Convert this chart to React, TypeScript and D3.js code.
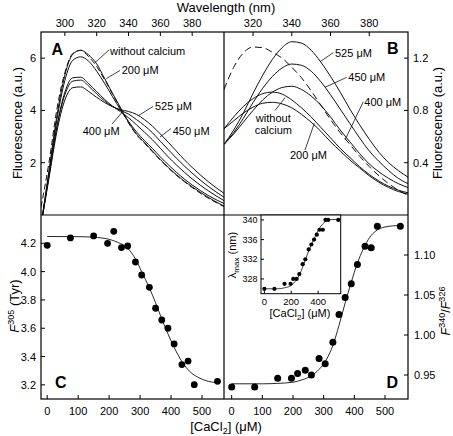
import React from "react";
import * as d3 from "d3";

// ---------- DATA ----------
// Panel A: emission spectra (wavelength, nm)
const WAVE_A = [285, 290, 295, 300, 305, 310, 315, 320, 325, 330, 335, 340, 345, 350, 355, 360, 365, 370, 375, 380, 390, 400];
const A_WITHOUT = [-0.4, 1.7, 3.8, 5.35, 6.15, 6.3, 6.12, 5.78, 5.22, 4.65, 4.1, 3.55, 3.1, 2.78, 2.45, 2.12, 1.82, 1.55, 1.3, 1.08, 0.68, 0.34];
const A_200 = [-0.4, 1.6, 3.65, 5.15, 5.92, 6.05, 5.88, 5.5, 5.03, 4.52, 4.02, 3.58, 3.18, 2.85, 2.55, 2.22, 1.92, 1.64, 1.38, 1.15, 0.75, 0.44];
const A_400 = [-0.4, 1.5, 3.4, 4.7, 5.25, 5.27, 5.02, 4.72, 4.42, 4.16, 3.95, 3.72, 3.45, 3.17, 2.88, 2.55, 2.22, 1.92, 1.64, 1.38, 0.93, 0.55];
const A_450 = [-0.4, 1.5, 3.35, 4.6, 5.12, 5.16, 4.93, 4.63, 4.36, 4.15, 4.0, 3.86, 3.65, 3.42, 3.15, 2.82, 2.5, 2.18, 1.88, 1.6, 1.1, 0.68];
const A_525 = [-0.4, 1.4, 3.2, 4.4, 4.87, 4.9, 4.72, 4.5, 4.3, 4.14, 4.03, 3.96, 3.85, 3.65, 3.4, 3.1, 2.78, 2.45, 2.12, 1.82, 1.28, 0.83];
const A_DASHED = [0.3, 2.0, 4.05, 5.45, 6.18, 6.3, 6.05, 5.68, 5.17, 4.62, 4.07, 3.52, 3.07, 2.75, 2.42, 2.1, 1.8, 1.52, 1.28, 1.05, 0.65, 0.32];

// Panel B: emission spectra
const WAVE_B = [305, 310, 315, 320, 325, 330, 335, 340, 345, 350, 355, 360, 365, 370, 375, 380, 385, 390, 395, 400];
const B_WITHOUT = [0.66, 0.75, 0.83, 0.89, 0.928, 0.94, 0.925, 0.88, 0.82, 0.75, 0.67, 0.59, 0.51, 0.44, 0.37, 0.31, 0.26, 0.22, 0.19, 0.17];
const B_200 = [0.66, 0.72, 0.78, 0.825, 0.855, 0.862, 0.85, 0.82, 0.77, 0.71, 0.64, 0.56, 0.49, 0.42, 0.36, 0.3, 0.25, 0.21, 0.18, 0.16];
const B_400 = [0.54, 0.62, 0.71, 0.8, 0.88, 0.94, 0.975, 0.985, 0.96, 0.91, 0.84, 0.75, 0.65, 0.56, 0.47, 0.39, 0.33, 0.28, 0.24, 0.21];
const B_450 = [0.54, 0.63, 0.74, 0.86, 0.97, 1.06, 1.125, 1.155, 1.145, 1.1, 1.02, 0.92, 0.81, 0.7, 0.59, 0.49, 0.41, 0.34, 0.28, 0.24];
const B_525 = [0.54, 0.65, 0.78, 0.93, 1.07, 1.19, 1.28, 1.326, 1.315, 1.26, 1.17, 1.06, 0.94, 0.81, 0.69, 0.58, 0.48, 0.4, 0.34, 0.29];
const B_DASHED = [0.96, 1.13, 1.24, 1.285, 1.28, 1.245, 1.2, 1.13, 1.05, 0.95, 0.84, 0.73, 0.63, 0.54, 0.45, 0.37, 0.3, 0.24, 0.19, 0.15];

// Titration: [CaCl2] (uM)
const CACL2 = [0, 75, 150, 195, 215, 240, 260, 285, 305, 330, 350, 370, 390, 410, 435, 455, 475, 550];
const C_F305 = [4.186, 4.238, 4.252, 4.2, 4.285, 4.17, 4.181, 4.068, 3.976, 3.889, 3.741, 3.658, 3.6, 3.489, 3.343, 3.368, 3.201, 3.225];
const D_RATIO = [0.935, 0.935, 0.946, 0.946, 0.952, 0.956, 0.95, 0.9705, 0.964, 0.991, 1.0255, 1.047, 1.064, 1.088, 1.111, 1.109, 1.136, 1.136];
const INSET_LMAX = [326, 326, 327, 327, 328, 328, 329, 331, 332, 334, 335, 336, 337, 338, 338, 340, 340, 340];

// Fitted curves
const C_FIT_X = [0, 100, 150, 200, 230, 260, 285, 305, 330, 350, 370, 390, 410, 435, 460, 490, 520, 550];
const C_FIT_Y = [4.248, 4.247, 4.243, 4.228, 4.205, 4.165, 4.09, 4.0, 3.885, 3.78, 3.665, 3.56, 3.465, 3.365, 3.295, 3.25, 3.225, 3.215];
const D_FIT_X = [0, 100, 150, 200, 230, 260, 285, 310, 330, 350, 370, 390, 410, 430, 450, 470, 500, 550];
const D_FIT_Y = [0.939, 0.939, 0.9395, 0.941, 0.944, 0.949, 0.957, 0.97, 0.987, 1.012, 1.04, 1.066, 1.09, 1.108, 1.122, 1.13, 1.135, 1.137];
const I_FIT_X = [0, 100, 150, 200, 230, 260, 285, 305, 330, 350, 370, 390, 410, 435, 460, 490, 550];
const I_FIT_Y = [326, 326, 326.2, 326.7, 327.5, 328.8, 330.4, 331.9, 333.7, 335, 336.2, 337.3, 338.3, 339.2, 339.8, 340.05, 340.1];

// Ticks
const TICKS_WAVE_A = [300, 320, 340, 360, 380];
const TICKS_WAVE_B = [320, 340, 360, 380];
const TICKS_A_Y = [2, 4, 6];
const TICKS_B_Y = [0.4, 0.8, 1.2];
const TICKS_C_Y = [3.2, 3.4, 3.6, 3.8, 4.0, 4.2];
const TICKS_D_Y = [0.95, 1.0, 1.05, 1.1];
const TICKS_CONC = [0, 100, 200, 300, 400, 500];
const TICKS_I_X = [0, 200, 400];
const TICKS_I_Y = [328, 332, 336, 340];

const FONT = "'Liberation Sans', Arial, Helvetica, sans-serif";

export default function App() {
  const L = 41, M = 224, R = 408, T = 32, H = 215, B = 399;
  const xA = d3.scaleLinear().domain([285, 400]).range([L, M]);
  const yA = d3.scaleLinear().domain([0, 7]).range([H, T]);
  const xB = d3.scaleLinear().domain([305, 400]).range([M, R]);
  const yB = d3.scaleLinear().domain([0, 1.4]).range([H, T]);
  const xC = d3.scaleLinear().domain([-20, 571]).range([L, M]);
  const yC = d3.scaleLinear().domain([3.1, 4.4]).range([B, H]);
  const xD = d3.scaleLinear().domain([-25, 575]).range([M, R]);
  const yD = d3.scaleLinear().domain([0.92, 1.15]).range([B, H]);
  const IL = 261, IR = 340.7, IT = 215, IB = 293.7;
  const xI = d3.scaleLinear().domain([-25, 568]).range([IL, IR]);
  const yI = d3.scaleLinear().domain([325, 341]).range([IB, IT]);

  const specA = (vals: number[]) =>
    d3.line<number>().x((_, i) => xA(WAVE_A[i])).y((d) => yA(d)).curve(d3.curveMonotoneX)(vals) || "";
  const specB = (vals: number[]) =>
    d3.line<number>().x((_, i) => xB(WAVE_B[i])).y((d) => yB(d)).curve(d3.curveMonotoneX)(vals) || "";
  const fit = (xs: number[], ys: number[], sx: any, sy: any) =>
    d3.line<number>().x((d) => sx(d)).y((_, i) => sy(ys[i])).curve(d3.curveMonotoneX)(xs) || "";

  const tickLen = 4;
  const tfs = 11;
  const stroke = "#000";

  return (
    <svg width={453} height={436} style={{ position: "absolute", left: 0, top: 0, background: "#fff" }} fontFamily={FONT}>
      <defs>
        <clipPath id="clipA"><rect x={L} y={T} width={M - L} height={H - T} /></clipPath>
        <clipPath id="clipB"><rect x={M} y={T} width={R - M} height={H - T} /></clipPath>
      </defs>
      <rect x={0} y={0} width={453} height={436} fill="#fff" />

      {/* Top axis title */}
      <text x={226} y={12} textAnchor="middle" fontSize={13}>Wavelength (nm)</text>

      {/* Panel A spectra */}
      <g clipPath="url(#clipA)" fill="none" stroke="#111" strokeWidth={1}>
        <path d={specA(A_DASHED)} strokeDasharray="6,3" />
        <path d={specA(A_WITHOUT)} />
        <path d={specA(A_200)} />
        <path d={specA(A_400)} />
        <path d={specA(A_450)} />
        <path d={specA(A_525)} />
      </g>
      {/* Panel B spectra */}
      <g clipPath="url(#clipB)" fill="none" stroke="#111" strokeWidth={1}>
        <path d={specB(B_DASHED)} strokeDasharray="7,4" />
        <path d={specB(B_WITHOUT)} />
        <path d={specB(B_200)} />
        <path d={specB(B_400)} />
        <path d={specB(B_450)} />
        <path d={specB(B_525)} />
      </g>

      {/* Frames */}
      <g fill="none" stroke={stroke} strokeWidth={1.2}>
        <rect x={L} y={T} width={R - L} height={B - T} />
        <line x1={M} y1={T} x2={M} y2={B} />
        <line x1={L} y1={H} x2={R} y2={H} />
      </g>

      {/* Wavelength ticks (top) */}
      {TICKS_WAVE_A.map((t) => (
        <g key={"ta" + t}>
          <line x1={xA(t)} x2={xA(t)} y1={T} y2={T + tickLen} stroke={stroke} />
          <text x={xA(t)} y={27} textAnchor="middle" fontSize={tfs}>{t}</text>
        </g>
      ))}
      {TICKS_WAVE_B.map((t) => (
        <g key={"tb" + t}>
          <line x1={xB(t)} x2={xB(t)} y1={T} y2={T + tickLen} stroke={stroke} />
          <text x={xB(t)} y={27} textAnchor="middle" fontSize={tfs}>{t}</text>
        </g>
      ))}
      {/* A y ticks */}
      {TICKS_A_Y.map((t) => (
        <g key={"ay" + t}>
          <line x1={L} x2={L + tickLen} y1={yA(t)} y2={yA(t)} stroke={stroke} />
          <text x={36} y={yA(t) + 4} textAnchor="end" fontSize={tfs}>{t}</text>
        </g>
      ))}
      {/* B y ticks */}
      {TICKS_B_Y.map((t) => (
        <g key={"by" + t}>
          <line x1={R - tickLen} x2={R} y1={yB(t)} y2={yB(t)} stroke={stroke} />
          <text x={413} y={yB(t) + 4} textAnchor="start" fontSize={tfs}>{t.toFixed(1)}</text>
        </g>
      ))}
      {/* C y ticks */}
      {TICKS_C_Y.map((t) => (
        <g key={"cy" + t}>
          <line x1={L} x2={L + tickLen} y1={yC(t)} y2={yC(t)} stroke={stroke} />
          <text x={36} y={yC(t) + 4} textAnchor="end" fontSize={tfs}>{t.toFixed(1)}</text>
        </g>
      ))}
      {/* D y ticks */}
      {TICKS_D_Y.map((t) => (
        <g key={"dy" + t}>
          <line x1={R - tickLen} x2={R} y1={yD(t)} y2={yD(t)} stroke={stroke} />
          <text x={414} y={yD(t) + 4} textAnchor="start" fontSize={tfs}>{t.toFixed(2)}</text>
        </g>
      ))}
      {/* Bottom ticks */}
      {TICKS_CONC.map((t) => (
        <g key={"cx" + t}>
          <line x1={xC(t)} x2={xC(t)} y1={B} y2={B - tickLen} stroke={stroke} />
          <text x={xC(t)} y={415} textAnchor="middle" fontSize={tfs}>{t}</text>
          <line x1={xD(t)} x2={xD(t)} y1={B} y2={B - tickLen} stroke={stroke} />
          <text x={xD(t)} y={415} textAnchor="middle" fontSize={tfs}>{t}</text>
        </g>
      ))}

      {/* Panel C */}
      <path d={fit(C_FIT_X, C_FIT_Y, xC, yC)} fill="none" stroke="#111" strokeWidth={0.9} />
      {CACL2.map((c, i) => (
        <circle key={"c" + i} cx={xC(c)} cy={yC(C_F305[i])} r={3.4} fill="#000" />
      ))}
      {/* Panel D */}
      <path d={fit(D_FIT_X, D_FIT_Y, xD, yD)} fill="none" stroke="#111" strokeWidth={0.9} />
      {CACL2.map((c, i) => (
        <circle key={"d" + i} cx={xD(c)} cy={yD(D_RATIO[i])} r={3.5} fill="#000" />
      ))}

      {/* Inset */}
      <rect x={IL} y={IT} width={IR - IL} height={IB - IT} fill="#fff" stroke={stroke} strokeWidth={1} />
      <path d={fit(I_FIT_X, I_FIT_Y, xI, yI)} fill="none" stroke="#111" strokeWidth={0.8} />
      {CACL2.map((c, i) => (
        <circle key={"i" + i} cx={xI(c)} cy={yI(INSET_LMAX[i])} r={2.1} fill="#000" />
      ))}
      {TICKS_I_Y.map((t) => (
        <g key={"iy" + t}>
          <line x1={IL} x2={IL + 3} y1={yI(t)} y2={yI(t)} stroke={stroke} />
          <text x={257.5} y={yI(t) + 3.2} textAnchor="end" fontSize={9}>{t}</text>
        </g>
      ))}
      {TICKS_I_X.map((t) => (
        <g key={"ix" + t}>
          <line x1={xI(t)} x2={xI(t)} y1={IB} y2={IB - 3} stroke={stroke} />
          <text x={xI(t)} y={305} textAnchor="middle" fontSize={9.5}>{t}</text>
        </g>
      ))}
      <text x={300} y={317} textAnchor="middle" fontSize={11}>
        [CaCl<tspan fontSize={8} dy={3}>2</tspan><tspan dy={-3}>] (μM)</tspan>
      </text>
      <text transform="translate(236,255) rotate(-90)" textAnchor="middle" fontSize={11}>
        λ<tspan fontSize={8} dy={2.5}>max</tspan><tspan dy={-2.5}> (nm)</tspan>
      </text>

      {/* Panel letters */}
      <text x={51.5} y={55} fontSize={16} fontWeight="bold">A</text>
      <text x={387} y={54} fontSize={16} fontWeight="bold">B</text>
      <text x={55} y={388} fontSize={16} fontWeight="bold">C</text>
      <text x={386.5} y={388} fontSize={16} fontWeight="bold">D</text>

      {/* Axis titles */}
      <text transform="translate(22,123) rotate(-90)" textAnchor="middle" fontSize={13}>Fluorescence (a.u.)</text>
      <text transform="translate(442,123) rotate(-90)" textAnchor="middle" fontSize={13}>Fluorescence (a.u.)</text>
      <text transform="translate(19,306) rotate(-90)" textAnchor="middle" fontSize={13}>
        <tspan fontStyle="italic">F</tspan><tspan fontSize={9} dy={-5}>305</tspan><tspan dy={5}> (Tyr)</tspan>
      </text>
      <text transform="translate(450,311) rotate(-90)" textAnchor="middle" fontSize={12.5}>
        <tspan fontStyle="italic">F</tspan><tspan fontSize={9} dy={-5}>340</tspan><tspan dy={5}>/</tspan><tspan fontStyle="italic">F</tspan><tspan fontSize={9} dy={-5}>326</tspan>
      </text>
      <text x={226} y={431} textAnchor="middle" fontSize={13}>
        [CaCl<tspan fontSize={9} dy={3}>2</tspan><tspan dy={-3}>] (μM)</tspan>
      </text>

      {/* Label leaders */}
      <g stroke="#111" strokeWidth={0.8}>
        <line x1={109} y1={50} x2={95} y2={62.5} />
        <line x1={120} y1={70.5} x2={106.5} y2={78.5} />
        <line x1={153} y1={106.5} x2={138.3} y2={115.7} />
        <line x1={171} y1={128.5} x2={160} y2={137} />
        <line x1={112} y1={124} x2={122} y2={112.5} />
        <line x1={333.3} y1={52.7} x2={320} y2={61.7} />
        <line x1={346.7} y1={77.3} x2={325} y2={87.3} />
        <line x1={363.3} y1={101.7} x2={345} y2={140} />
        <line x1={275} y1={110.5} x2={285} y2={97.7} />
        <line x1={305} y1={150} x2={314.3} y2={123.3} />
      </g>
      <g fontSize={11}>
        <text x={110} y={55}>without calcium</text>
        <text x={121.7} y={74}>200 μM</text>
        <text x={155} y={110}>525 μM</text>
        <text x={172.7} y={135}>450 μM</text>
        <text x={82.7} y={135}>400 μM</text>
        <text x={335} y={57}>525 μM</text>
        <text x={348.3} y={81}>450 μM</text>
        <text x={364.3} y={106}>400 μM</text>
        <text x={273.3} y={121.7} textAnchor="middle">without</text>
        <text x={273.3} y={134.3} textAnchor="middle">calcium</text>
        <text x={290} y={159}>200 μM</text>
      </g>
    </svg>
  );
}
